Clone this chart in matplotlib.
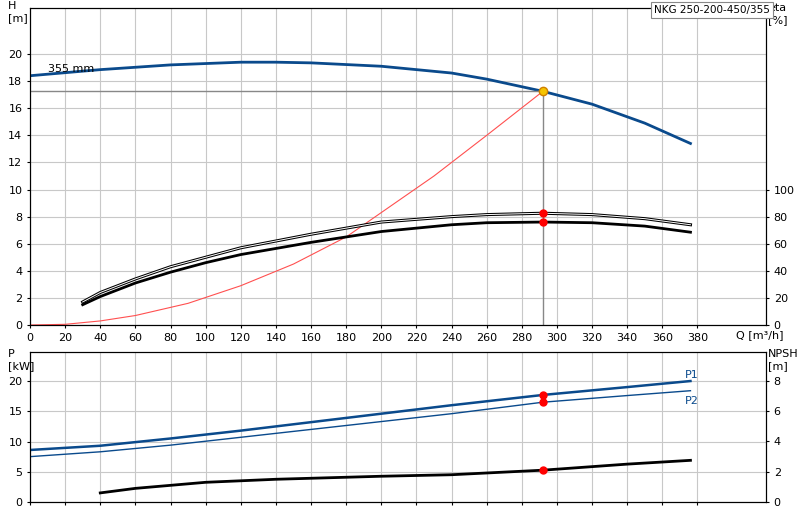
import matplotlib
matplotlib.use("Agg")
import matplotlib.pyplot as plt

q_h = [0, 40, 80, 120, 140, 160, 200, 240, 260, 292, 320, 350, 376]
h = [18.4, 18.85, 19.2, 19.4, 19.4, 19.35, 19.1, 18.6, 18.15, 17.25, 16.3, 14.9, 13.4]
q_sys = [0, 20, 40, 60, 90, 120, 150, 180, 200, 230, 260, 292]
h_sys = [0, 0.05, 0.3, 0.7, 1.6, 2.9, 4.5, 6.5, 8.3, 11.0, 14.0, 17.25]
q_eta = [30, 40, 60, 80, 100, 120, 160, 200, 240, 260, 292, 320, 350, 376]
eta_tot = [17, 24, 34, 43, 50, 57, 67, 76, 80, 81.5, 82.5, 81.5, 78.5, 74]
eta_p = [15, 21, 31, 39, 46, 52, 61, 69, 74, 75.5, 76, 75.5, 73, 68.5]
q_p = [0, 40, 80, 120, 160, 200, 240, 292, 340, 376]
p1 = [8.6, 9.3, 10.5, 11.8, 13.2, 14.6, 16.0, 17.7, 19.0, 20.0]
p2 = [7.5, 8.3, 9.4, 10.7, 12.0, 13.3, 14.6, 16.5, 17.6, 18.4]
q_npsh = [40, 60, 100, 140, 200, 240, 292, 340, 376]
npsh = [0.6, 0.9, 1.3, 1.5, 1.7, 1.8, 2.1, 2.5, 2.75]
q_op = 292

blue = "#0a4a8c"
fig = plt.figure(figsize=(8, 5.2), dpi=100)
ax = fig.add_axes([30/800, 1-325/520, 736/800, 317/520])
axb = fig.add_axes([30/800, 1-502/520, 736/800, 150/520])
XMAX = 419
for a in (ax, axb):
    a.set_xlim(0, XMAX)
    a.set_xticks(range(0, 381, 20))
    a.grid(True, color="#c8c8c8", lw=0.8)
    a.tick_params(labelsize=8, length=2)
ax.set_ylim(0, 23.4)
ax.set_yticks(range(0, 21, 2))
ax.set_xticklabels([str(v) for v in range(0, 381, 20)])
axb.set_xticklabels([])
axb.set_ylim(0, 24.8)
axb.set_yticks([0, 5, 10, 15, 20])

ax.plot(q_h, h, color=blue, lw=2)
ax.plot(q_sys, h_sys, color="#ff5050", lw=0.8)
ax.plot([0, q_op], [17.25, 17.25], color="#888888", lw=1)
ax.plot([q_op, q_op], [0, 17.25], color="#888888", lw=1)
ax.plot(q_op, 17.25, "o", color="#f5c400", mec="#d08000", ms=6)
ax.text(10, 18.7, "355 mm", fontsize=8)

ax2 = ax.twinx()
ax2.set_ylim(0, 234)
ax2.set_yticks(range(0, 101, 20))
ax2.tick_params(labelsize=8, length=2)
ax2.plot(q_eta, eta_tot, color="black", lw=2.2)
ax2.plot(q_eta, eta_tot, color="white", lw=0.7)
ax2.plot(q_eta, eta_p, color="black", lw=2)
ax2.plot([q_op, q_op], [82.5, 76], "o", color="red", ms=5, ls="none")

axb.plot(q_p, p1, color=blue, lw=1.8)
axb.plot(q_p, p2, color=blue, lw=1)
axb.plot([q_op, q_op], [17.7, 16.5], "o", color="red", ms=5, ls="none")
axb.text(373, 20.5, "P1", color=blue, fontsize=8)
axb.text(373, 16.2, "P2", color=blue, fontsize=8)
axb2 = axb.twinx()
axb2.set_ylim(0, 9.9)
axb2.set_yticks([0, 2, 4, 6, 8])
axb2.tick_params(labelsize=8, length=2)
axb2.plot(q_npsh, npsh, color="black", lw=2)
axb2.plot(q_op, 2.1, "o", color="red", ms=5)

fig.text(8/800, 1-12/520, "H\n[m]", fontsize=8, va="center")
fig.text(768/800, 1-14/520, "eta\n[%]", fontsize=8, va="center")
fig.text(8/800, 1-360/520, "P\n[kW]", fontsize=8, va="center")
fig.text(768/800, 1-360/520, "NPSH\n[m]", fontsize=8, va="center")
fig.text(736/800, 1-330/520, "Q [m³/h]", fontsize=8, va="top")
fig.text(654/800, 1-10/520, "NKG 250-200-450/355", fontsize=7.5, va="center",
         bbox=dict(fc="white", ec="#888888", lw=0.8, pad=2))
fig.savefig("out.png", dpi=100)
